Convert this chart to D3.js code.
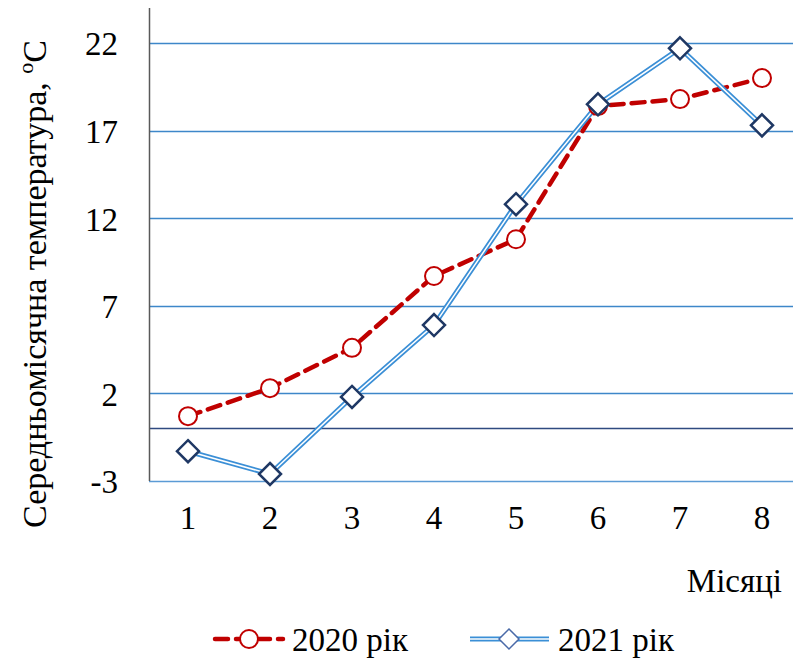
<!DOCTYPE html>
<html>
<head>
<meta charset="utf-8">
<script src="https://cdn.jsdelivr.net/npm/d3@7"></script>
<style>
  html, body { margin: 0; padding: 0; background: #fff; }
  svg text { font-family: 'Liberation Serif', 'Times New Roman', 'DejaVu Serif', serif; }
</style>
</head>
<body>
<svg id="chart" width="793" height="661"></svg>
<script>
// Monthly mean temperature, °C
const months = [1, 2, 3, 4, 5, 6, 7, 8];
const temps2020 = [0.7, 2.3, 4.6, 8.7, 10.8, 18.4, 18.8, 20.0];
const temps2021 = [-1.3, -2.6, 1.8, 5.9, 12.8, 18.5, 21.7, 17.3];
const yTicks = [-3, 2, 7, 12, 17, 22];
const seriesNames = ["2020 рік", "2021 рік"];

const svg = d3.select("#chart");
const plot = { left: 149, right: 803, top: 8, bottom: 481 };
const fs = 33;

const x = d3.scaleBand().domain(months).range([plot.left - 2, plot.right]);
const y = d3.scaleLinear().domain([-3, 24]).range([plot.bottom, plot.top]);
const cx = d => x(d) + x.bandwidth() / 2;

const gridColor = "#3d87c9";

// horizontal gridlines
svg.append("g").selectAll("line").data(yTicks).join("line")
  .attr("x1", plot.left).attr("x2", 793)
  .attr("y1", d => Math.round(y(d)) + 0.5).attr("y2", d => Math.round(y(d)) + 0.5)
  .attr("stroke", d => d === -3 ? "#5b9bd5" : gridColor).attr("stroke-width", 1.5);

// horizontal axis crossing at zero
svg.append("line")
  .attr("x1", plot.left).attr("x2", 793)
  .attr("y1", Math.round(y(0)) + 0.5).attr("y2", Math.round(y(0)) + 0.5)
  .attr("stroke", "#2f4a80").attr("stroke-width", 1.5);

// vertical axis
svg.append("line")
  .attr("x1", plot.left + 0.5).attr("x2", plot.left + 0.5)
  .attr("y1", plot.top).attr("y2", plot.bottom)
  .attr("stroke", "#595959").attr("stroke-width", 1.5);

// y tick labels (plain hyphen for negatives)
const yAxis = d3.axisLeft(y).tickValues(yTicks).tickSize(0).tickPadding(0)
  .tickFormat(d => String(d));
const gy = svg.append("g").attr("transform", `translate(${plot.left - 31},0)`).call(yAxis);
gy.attr("font-family", null).attr("font-size", null);
gy.select(".domain").remove();
gy.selectAll("text").attr("font-size", fs).attr("fill", "#000").attr("dy", "0.36em");

// x tick labels
const xAxis = d3.axisBottom(x).tickSize(0).tickPadding(0);
const gx = svg.append("g").attr("transform", `translate(0,${plot.bottom + 24})`).call(xAxis);
gx.attr("font-family", null).attr("font-size", null);
gx.select(".domain").remove();
gx.selectAll("text").attr("font-size", fs).attr("fill", "#000").attr("dy", "0.72em");

// axis titles
svg.append("text")
  .attr("x", 782).attr("y", 592).attr("text-anchor", "end")
  .attr("font-size", fs).text("Місяці");

const yTitle = svg.append("text")
  .attr("transform", "translate(46,284) rotate(-90)")
  .attr("text-anchor", "middle").attr("font-size", 34);
yTitle.append("tspan").text("Середньомісячна  температура,  ");
yTitle.append("tspan").attr("font-size", 22).attr("dy", -13).text("о");
yTitle.append("tspan").attr("dy", 13).text("С");

// lines
const line = d3.line().x((d, i) => cx(months[i])).y(d => y(d));

svg.append("path").datum(temps2020).attr("d", line)
  .attr("fill", "none").attr("stroke", "#c00000").attr("stroke-width", 4.5)
  .attr("stroke-dasharray", "13,8").attr("stroke-linecap", "round");

svg.append("path").datum(temps2021).attr("d", line)
  .attr("fill", "none").attr("stroke", "#3b8fd6").attr("stroke-width", 5);
svg.append("path").datum(temps2021).attr("d", line)
  .attr("fill", "none").attr("stroke", "#fff").attr("stroke-width", 1.5);

// markers
svg.append("g").selectAll("circle").data(temps2020).join("circle")
  .attr("cx", (d, i) => cx(months[i])).attr("cy", d => y(d)).attr("r", 9)
  .attr("fill", "#fff").attr("stroke", "#c00000").attr("stroke-width", 2);

const diamond = s => `M0,${-s}L${s},0L0,${s}L${-s},0Z`;
svg.append("g").selectAll("path").data(temps2021).join("path")
  .attr("transform", (d, i) => `translate(${cx(months[i])},${y(d)})`)
  .attr("d", diamond(11))
  .attr("fill", "#fff").attr("stroke", "#1f3864").attr("stroke-width", 2.5);

// legend
const legY = 639;
const leg = svg.append("g");
leg.append("line").attr("x1", 215).attr("x2", 283).attr("y1", legY).attr("y2", legY)
  .attr("stroke", "#c00000").attr("stroke-width", 4.5)
  .attr("stroke-dasharray", "13,8").attr("stroke-linecap", "round");
leg.append("circle").attr("cx", 249).attr("cy", legY).attr("r", 9)
  .attr("fill", "#fff").attr("stroke", "#c00000").attr("stroke-width", 2);
leg.append("text").attr("x", 292).attr("y", legY + 12).attr("font-size", fs).text(seriesNames[0]);

leg.append("line").attr("x1", 470).attr("x2", 549).attr("y1", legY).attr("y2", legY)
  .attr("stroke", "#3b8fd6").attr("stroke-width", 5);
leg.append("line").attr("x1", 470).attr("x2", 549).attr("y1", legY).attr("y2", legY)
  .attr("stroke", "#fff").attr("stroke-width", 1.5);
leg.append("path").attr("transform", `translate(509,${legY})`).attr("d", diamond(10))
  .attr("fill", "#fff").attr("stroke", "#4a6aa8").attr("stroke-width", 1.5);
leg.append("text").attr("x", 558).attr("y", legY + 12).attr("font-size", fs).text(seriesNames[1]);
</script>
</body>
</html>
